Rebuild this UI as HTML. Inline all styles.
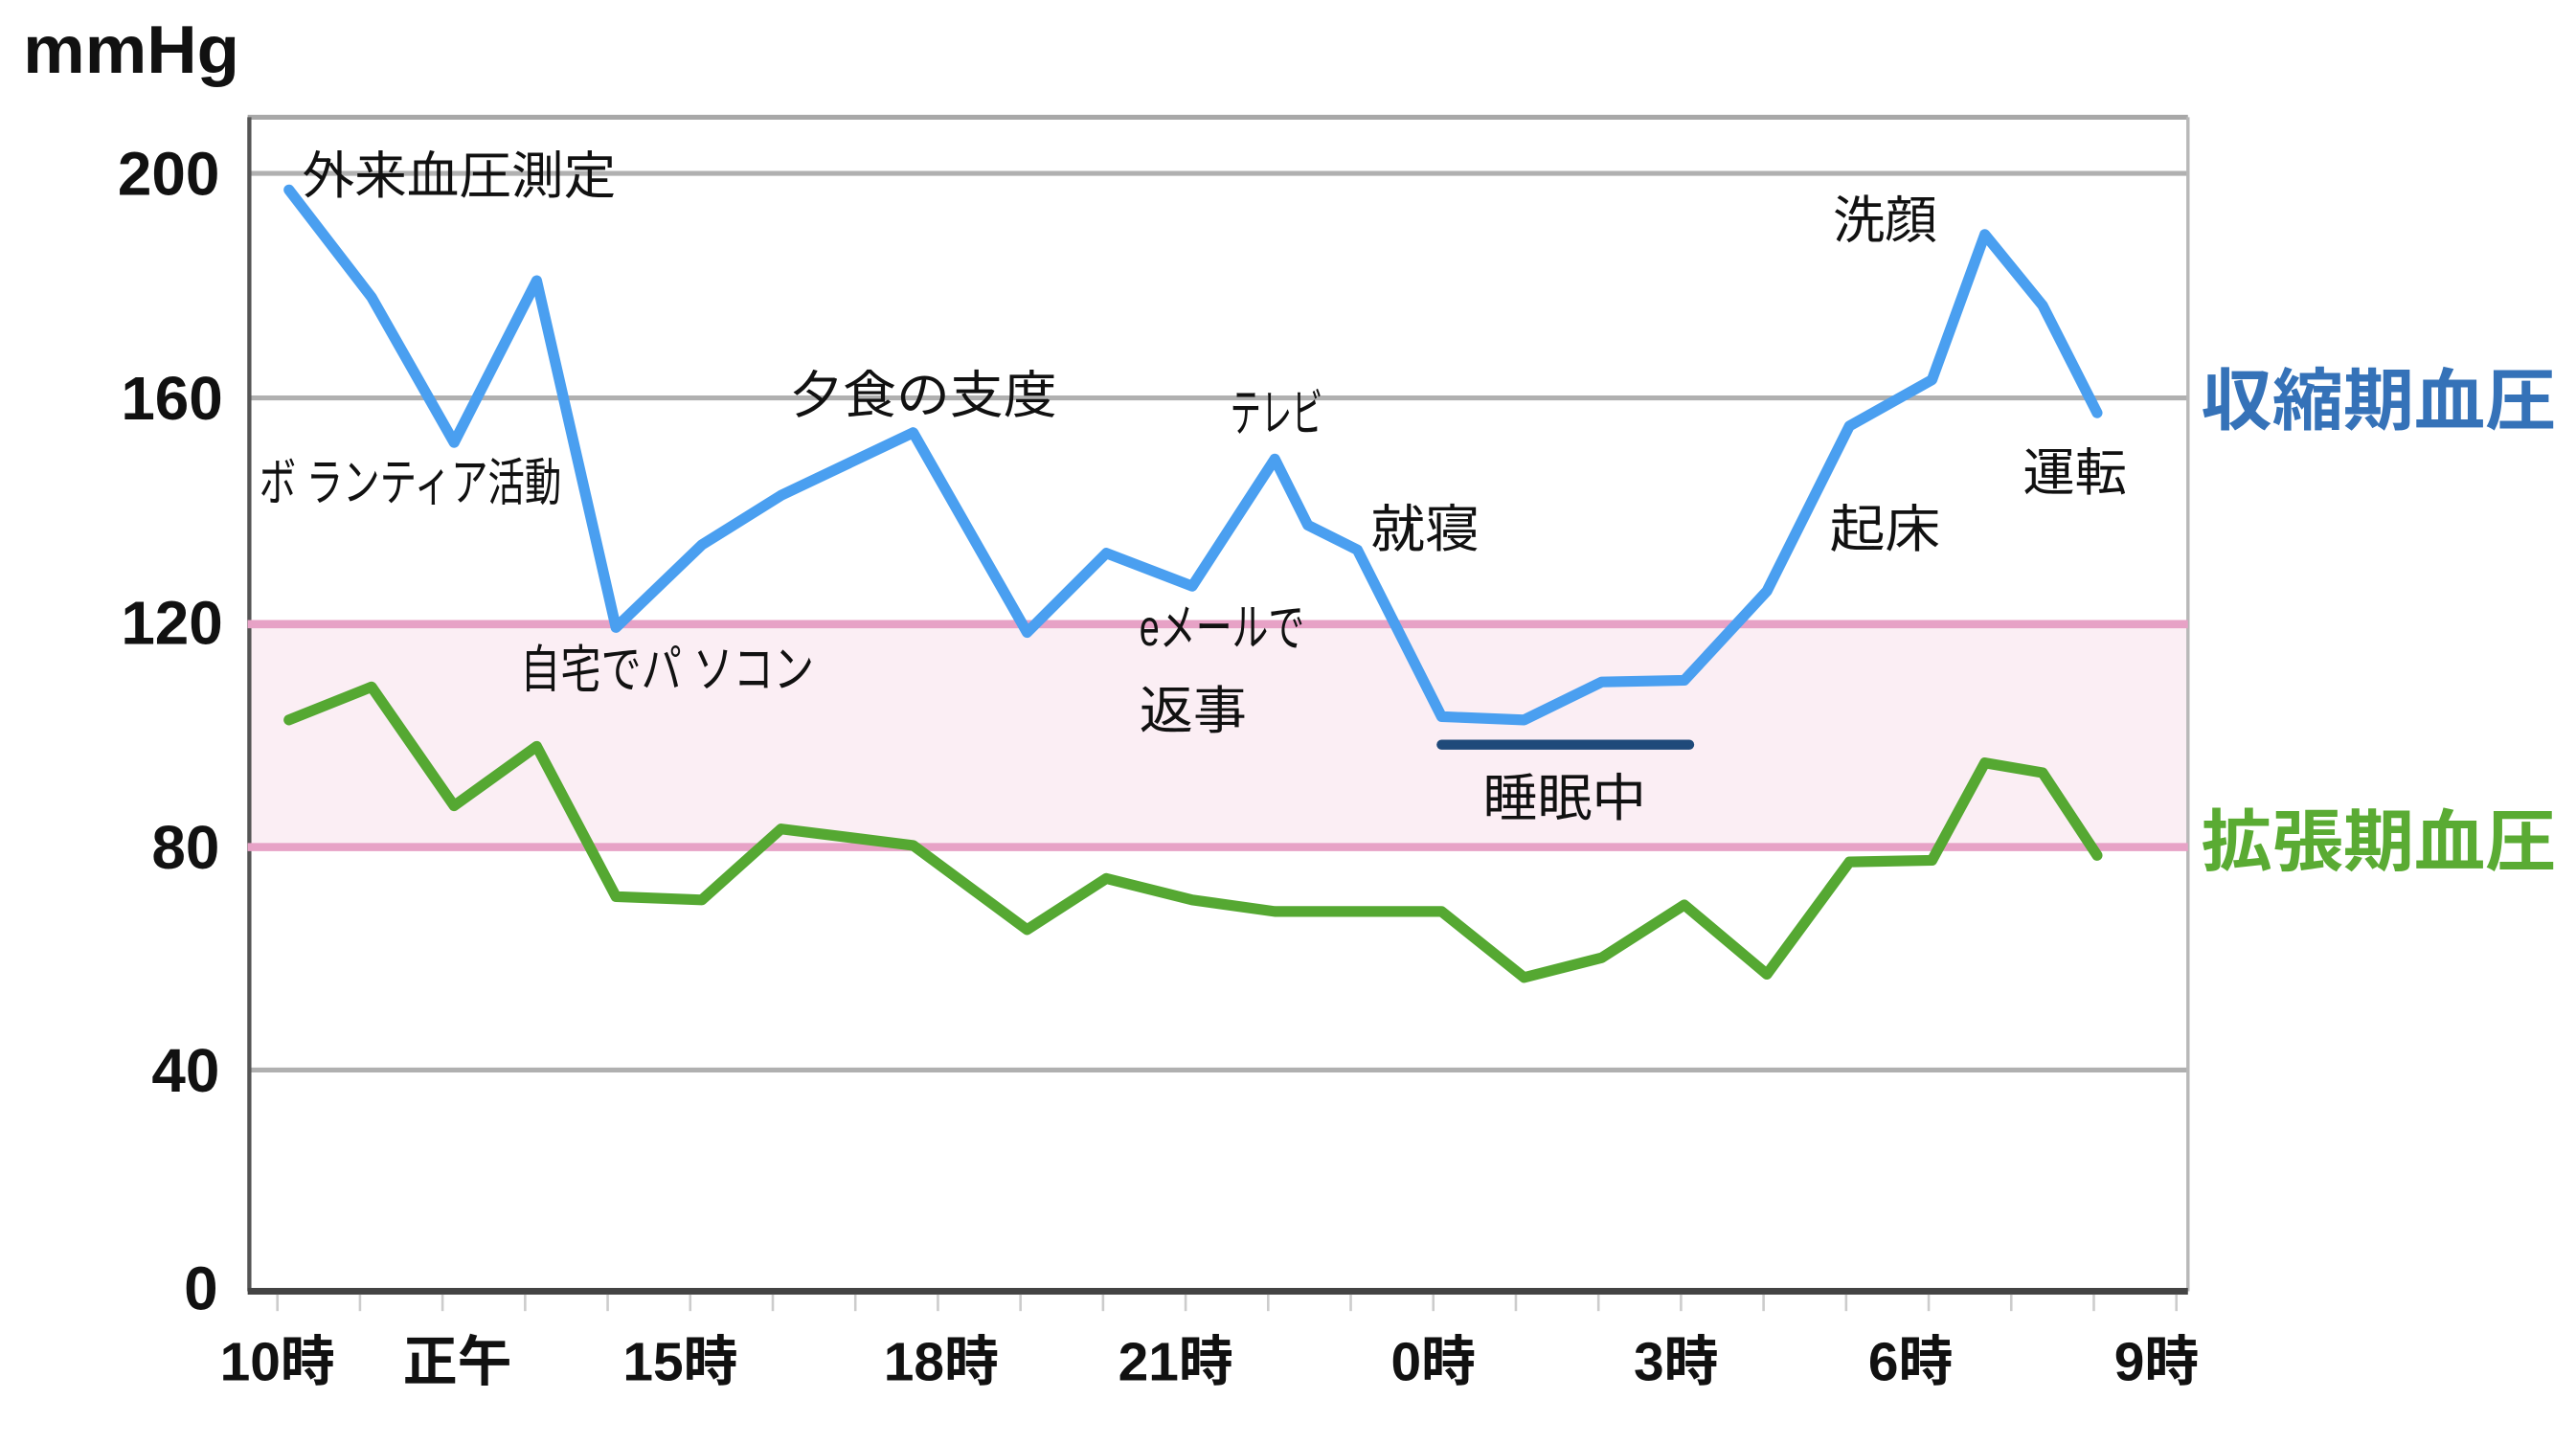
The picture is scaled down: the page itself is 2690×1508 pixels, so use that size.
<!DOCTYPE html>
<html><head><meta charset="utf-8"><style>
html,body{margin:0;padding:0;background:#fff;}
svg{display:block;}
text{font-family:"Liberation Sans","Noto Sans CJK JP",sans-serif;}
</style></head><body>
<svg width="2690" height="1508" viewBox="0 0 1560 874.5" preserveAspectRatio="none" xmlns="http://www.w3.org/2000/svg">
<rect width="1560" height="874.5" fill="#fff"/>
<rect x="150" y="378" width="1175" height="135" fill="#fbeef4"/>
<g stroke="#b0b0b0" stroke-width="3">
<line x1="150" y1="105" x2="1325" y2="105"/>
<line x1="150" y1="241" x2="1325" y2="241"/>
<line x1="150" y1="648" x2="1325" y2="648"/>
</g>
<line x1="150" y1="71" x2="1325" y2="71" stroke="#a8a8a8" stroke-width="3"/>
<line x1="1325" y1="71" x2="1325" y2="782" stroke="#b8b8b8" stroke-width="2"/>
<line x1="151" y1="71" x2="151" y2="782" stroke="#555" stroke-width="2.5"/>
<line x1="150" y1="782" x2="1325" y2="782" stroke="#444" stroke-width="4"/>
<g stroke="#e7a2c6" stroke-width="5">
<line x1="150" y1="378" x2="1325" y2="378"/>
<line x1="150" y1="513" x2="1325" y2="513"/>
</g>
<g stroke="#ccc" stroke-width="1.5">
<line x1="168" y1="784" x2="168" y2="794"/><line x1="218" y1="784" x2="218" y2="794"/><line x1="268" y1="784" x2="268" y2="794"/><line x1="318" y1="784" x2="318" y2="794"/><line x1="368" y1="784" x2="368" y2="794"/><line x1="418" y1="784" x2="418" y2="794"/><line x1="468" y1="784" x2="468" y2="794"/><line x1="518" y1="784" x2="518" y2="794"/><line x1="568" y1="784" x2="568" y2="794"/><line x1="618" y1="784" x2="618" y2="794"/><line x1="668" y1="784" x2="668" y2="794"/><line x1="718" y1="784" x2="718" y2="794"/><line x1="768" y1="784" x2="768" y2="794"/><line x1="818" y1="784" x2="818" y2="794"/><line x1="868" y1="784" x2="868" y2="794"/><line x1="918" y1="784" x2="918" y2="794"/><line x1="968" y1="784" x2="968" y2="794"/><line x1="1018" y1="784" x2="1018" y2="794"/><line x1="1068" y1="784" x2="1068" y2="794"/><line x1="1118" y1="784" x2="1118" y2="794"/><line x1="1168" y1="784" x2="1168" y2="794"/><line x1="1218" y1="784" x2="1218" y2="794"/><line x1="1268" y1="784" x2="1268" y2="794"/><line x1="1318" y1="784" x2="1318" y2="794"/>
</g>
<polyline fill="none" stroke="#4a9ff0" stroke-width="6.5" stroke-linejoin="round" stroke-linecap="round"
points="175,115 225,180 275,268 325,170 373,380 425,330 473,300 553,262 622,383 670,335 722,355 772,278 792,318 822,333 873,434 923,436 970,413 1020,412 1070,358 1120,258 1170,230 1202,142 1237,185 1270,250"/>
<polyline fill="none" stroke="#55a832" stroke-width="6.5" stroke-linejoin="round" stroke-linecap="round"
points="175,436 225,416 275,488 325,452 373,543 425,545 473,502 553,512 622,563 670,532 722,545 772,552 822,552 873,552 923,592 970,580 1020,548 1070,590 1120,522 1170,521 1202,462 1237,468 1270,518"/>
<line x1="873" y1="451" x2="1023" y2="451" stroke="#1f4a7a" stroke-width="6" stroke-linecap="round"/>
<text x="14" y="44" font-size="41" font-weight="bold" fill="#111" textLength="131" lengthAdjust="spacingAndGlyphs">mmHg</text>
<g font-size="37" font-weight="bold" fill="#111" text-anchor="end">
<text x="133" y="118">200</text><text x="135" y="254">160</text><text x="135" y="390">120</text>
<text x="133" y="526">80</text><text x="133" y="661">40</text><text x="132" y="793">0</text>
</g>
<g font-size="33" font-weight="bold" fill="#111" text-anchor="middle">
<text x="168" y="836">10時</text><text x="277" y="836">正午</text><text x="412" y="836">15時</text>
<text x="570" y="836">18時</text><text x="712" y="836">21時</text><text x="868" y="836">0時</text>
<text x="1015" y="836">3時</text><text x="1157" y="836">6時</text><text x="1306" y="836">9時</text>
</g>
<g font-size="31" fill="#111" lengthAdjust="spacingAndGlyphs">
<text x="183" y="117" textLength="190" lengthAdjust="spacingAndGlyphs">外来血圧測定</text>
<text x="157" y="303" textLength="183" lengthAdjust="spacingAndGlyphs">ボ ランティア活動</text>
<text x="315" y="416" textLength="178" lengthAdjust="spacingAndGlyphs">自宅でパ ソコン</text>
<text x="478" y="250" textLength="162" lengthAdjust="spacingAndGlyphs">夕食の支度</text>
<text x="745" y="261" textLength="56" lengthAdjust="spacingAndGlyphs">テレビ</text>
<text x="690" y="391" textLength="100" lengthAdjust="spacingAndGlyphs">eメールで</text>
<text x="690" y="441" textLength="65" lengthAdjust="spacingAndGlyphs">返事</text>
<text x="830" y="331" textLength="66" lengthAdjust="spacingAndGlyphs">就寝</text>
<text x="898" y="494" textLength="99" lengthAdjust="spacingAndGlyphs">睡眠中</text>
<text x="1110" y="144" textLength="63" lengthAdjust="spacingAndGlyphs">洗顔</text>
<text x="1108" y="331" textLength="67" lengthAdjust="spacingAndGlyphs">起床</text>
<text x="1225" y="297" textLength="63" lengthAdjust="spacingAndGlyphs">運転</text>
</g>
<text x="1333" y="257" font-size="41" font-weight="bold" fill="#3572b8" textLength="215" lengthAdjust="spacingAndGlyphs">収縮期血圧</text>
<text x="1333" y="524" font-size="41" font-weight="bold" fill="#5aab33" textLength="215" lengthAdjust="spacingAndGlyphs">拡張期血圧</text>
</svg>
</body></html>
